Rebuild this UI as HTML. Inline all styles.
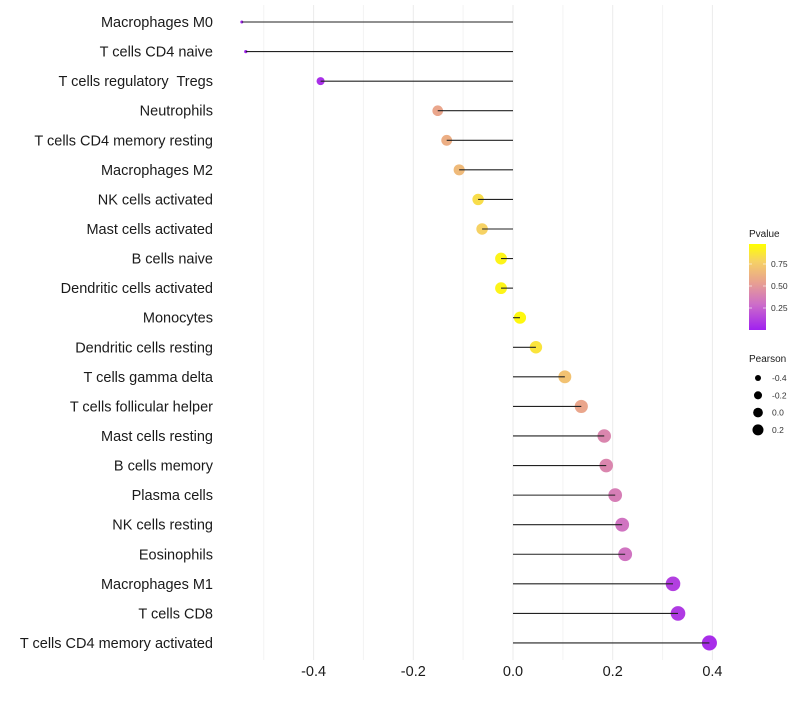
<!DOCTYPE html>
<html><head><meta charset="utf-8"><style>
body{margin:0;background:#fff;font-family:"Liberation Sans",sans-serif}
svg text{font-family:"Liberation Sans",sans-serif;white-space:pre}
</style></head><body>
<svg id="c" width="800" height="700" xmlns="http://www.w3.org/2000/svg"></svg>
<script>
const categories=["Macrophages M0","T cells CD4 naive","T cells regulatory  Tregs","Neutrophils","T cells CD4 memory resting","Macrophages M2","NK cells activated","Mast cells activated","B cells naive","Dendritic cells activated","Monocytes","Dendritic cells resting","T cells gamma delta","T cells follicular helper","Mast cells resting","B cells memory","Plasma cells","NK cells resting","Eosinophils","Macrophages M1","T cells CD8","T cells CD4 memory activated"];
const pearson=[-0.544,-0.536,-0.386,-0.151,-0.133,-0.108,-0.070,-0.062,-0.024,-0.024,0.014,0.046,0.104,0.137,0.183,0.187,0.205,0.219,0.225,0.321,0.331,0.394];
const pvalue=[0.01,0.01,0.06,0.58,0.62,0.68,0.85,0.8,0.95,0.95,0.97,0.88,0.72,0.58,0.42,0.42,0.38,0.33,0.33,0.12,0.1,0.05];
const xTicks=[-0.4,-0.2,0.0,0.2,0.4];
const xTickLabels=["-0.4","-0.2","0.0","0.2","0.4"];
const colorTicks=[0.25,0.5,0.75];
const sizeLegend=[-0.4,-0.2,0.0,0.2];

const NS="http://www.w3.org/2000/svg";
const svg=document.getElementById('c');
function mk(t,a,parent){const e=document.createElementNS(NS,t);for(const k in a)e.setAttribute(k,a[k]);(parent||svg).appendChild(e);return e;}
const x=v=>513+v*498.5;
const y=i=>22+i*29.57;
const r=v=>v>=-0.39?Math.sqrt(16+52*(v+0.39)):1.5+(v+0.544)/0.154*2.5;
const lr=v=>Math.sqrt(9+36*(v+0.4));
const stops=[[0,[160,32,240]],[0.3,[205,110,200]],[0.55,[232,160,145]],[0.8,[246,210,100]],[1,[255,255,0]]];
function col(p){for(let i=1;i<stops.length;i++){if(p<=stops[i][0]){const a=stops[i-1],b=stops[i];const t=(p-a[0])/(b[0]-a[0]);const c=a[1].map((v,k)=>Math.round(v+(b[1][k]-v)*t));return `rgb(${c})`;}}return 'rgb(255,255,0)';}
const pY=p=>330-p*88;

for(let v=-0.5;v<=0.45;v+=0.1){const g=mk('line',{x1:x(v),x2:x(v),y1:5,y2:660,stroke:Math.abs(Math.round(v*10)%2)==1?'#f3f3f3':'#ebebeb','stroke-width':1});

}

categories.forEach((c,i)=>{
 const t=mk('text',{x:213,y:y(i)+5,'text-anchor':'end','font-size':14.5,fill:'#1a1a1a'});t.textContent=c;
 
 
 const d=mk('circle',{cx:x(pearson[i]),cy:y(i),r:r(pearson[i]),fill:col(pvalue[i])});
 
 
 const l=mk('line',{x1:x(0),x2:x(pearson[i]),y1:y(i),y2:y(i),stroke:'#222','stroke-width':1.1});
 
 
});
xTicks.forEach((v,i)=>{const t=mk('text',{x:x(v),y:676,'text-anchor':'middle','font-size':14.5,fill:'#1a1a1a'});t.textContent=xTickLabels[i];
 
 });

const defs=mk('defs',{});const lg=mk('linearGradient',{id:'pg',x1:0,y1:1,x2:0,y2:0},defs);
stops.forEach(s=>mk('stop',{offset:s[0],'stop-color':`rgb(${s[1]})`},lg));
let tt=mk('text',{x:749,y:237,'font-size':10,fill:'#1a1a1a'});tt.textContent='Pvalue';


const bar=mk('rect',{x:749,y:244,width:17,height:86,fill:'url(#pg)'});


colorTicks.forEach(p=>{mk('line',{x1:749,x2:752,y1:pY(p),y2:pY(p),stroke:'#fff','stroke-width':0.6});mk('line',{x1:763,x2:766,y1:pY(p),y2:pY(p),stroke:'#fff','stroke-width':0.6});
 const t=mk('text',{x:771,y:pY(p)+3,'font-size':8.5,fill:'#333'});t.textContent=p.toFixed(2);
 
 });
tt=mk('text',{x:749,y:362,'font-size':10,fill:'#1a1a1a'});tt.textContent='Pearson';


sizeLegend.forEach((v,i)=>{const cy=378+i*17.3;const c=mk('circle',{cx:758,cy:cy,r:lr(v),fill:'#000'});
 
 
 const t=mk('text',{x:772,y:cy+3,'font-size':8.5,fill:'#333'});t.textContent=v.toFixed(1);
 
 });
</script>
</body></html>
